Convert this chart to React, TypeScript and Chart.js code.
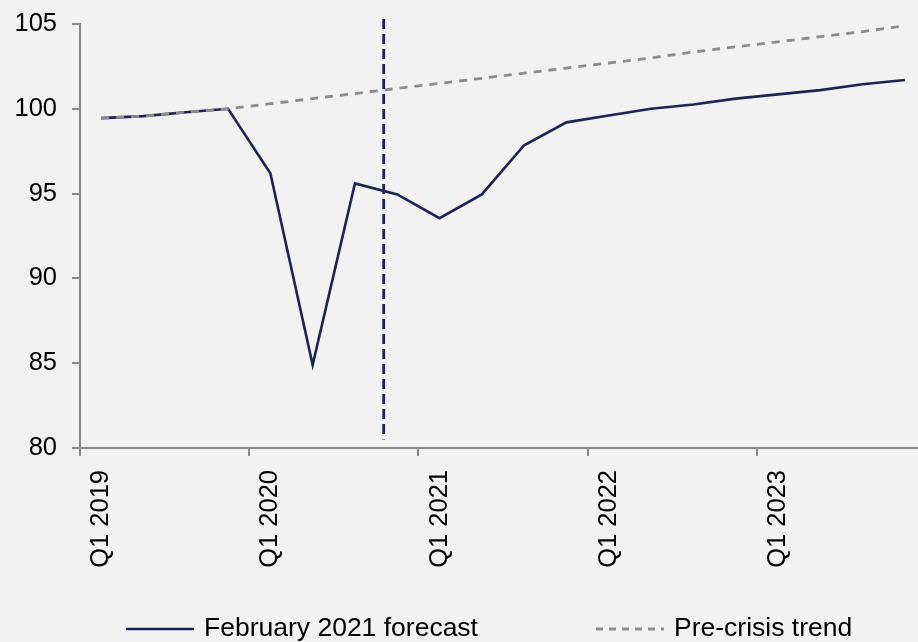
import React, { useEffect, useRef } from "react";
import { Chart, registerables } from "chart.js";

Chart.register(...registerables);

// ---- data ----
const QUARTERS = [
  "Q1 2019", "Q2 2019", "Q3 2019", "Q4 2019",
  "Q1 2020", "Q2 2020", "Q3 2020", "Q4 2020",
  "Q1 2021", "Q2 2021", "Q3 2021", "Q4 2021",
  "Q1 2022", "Q2 2022", "Q3 2022", "Q4 2022",
  "Q1 2023", "Q2 2023", "Q3 2023", "Q4 2023",
];
const FORECAST = [
  99.45, 99.57, 99.8, 100.0,
  96.2, 84.9, 95.6, 94.95,
  93.55, 94.95, 97.85, 99.2,
  99.6, 100.0, 100.25, 100.6,
  100.85, 101.1, 101.45, 101.7,
];
const TREND = [
  99.45, 99.57, 99.8, 100.0,
  100.3, 100.6, 100.9, 101.2,
  101.5, 101.8, 102.1, 102.4,
  102.7, 103.0, 103.35, 103.65,
  103.95, 104.25, 104.55, 104.9,
];
const SERIES_NAMES = ["February 2021 forecast", "Pre-crisis trend"];
const Y_MIN = 80;
const Y_MAX = 105;
const Y_STEP = 5;
// forecast cut-off marker (fractional category position) and its vertical extent
const CUTOFF_AT = 6.68;
const CUTOFF_FROM = 80.5;
const CUTOFF_TO = 105.3;

// ---- styles ----
const NAVY = "#1c2356";
const TREND_GREY = "#8c8c8c";
const AXIS_GREY = "#888888";
const BG = "#f2f2f2";
const FONT = "'Liberation Sans', Arial, sans-serif";
const LEGEND_FONT_SIZE = 26.5;
const LEGEND_Y = 629;
const LEGEND_ITEM_X = [126, 596];
const LEGEND_SAMPLE_W = 68;
const LEGEND_TEXT_GAP = 10;

const cutoffLine = {
  id: "cutoffLine",
  afterDatasetsDraw(chart: any) {
    const { ctx } = chart;
    const xs = chart.scales.x;
    const ys = chart.scales.y;
    const x = xs.getPixelForValue(CUTOFF_AT);
    const y1 = ys.getPixelForValue(CUTOFF_TO);
    const y2 = ys.getPixelForValue(CUTOFF_FROM);
    ctx.save();
    ctx.strokeStyle = NAVY;
    ctx.lineWidth = 2.8;
    ctx.setLineDash([10, 5]);
    ctx.beginPath();
    ctx.moveTo(x, y1);
    ctx.lineTo(x, y2);
    ctx.stroke();
    ctx.restore();
  },
};

const lineLegend = {
  id: "lineLegend",
  afterDraw(chart: any) {
    const { ctx } = chart;
    chart.data.datasets.forEach((ds: any, i: number) => {
      const x0 = LEGEND_ITEM_X[i];
      ctx.save();
      ctx.strokeStyle = ds.borderColor;
      ctx.lineWidth = ds.borderWidth;
      ctx.setLineDash(ds.borderDash ? [7, 6] : []);
      ctx.beginPath();
      ctx.moveTo(x0, LEGEND_Y);
      ctx.lineTo(x0 + LEGEND_SAMPLE_W, LEGEND_Y);
      ctx.stroke();
      ctx.setLineDash([]);
      ctx.fillStyle = "#000";
      ctx.font = `${LEGEND_FONT_SIZE}px ${FONT}`;
      ctx.textBaseline = "middle";
      ctx.textAlign = "left";
      ctx.fillText(ds.label, x0 + LEGEND_SAMPLE_W + LEGEND_TEXT_GAP, LEGEND_Y);
      ctx.restore();
    });
  },
};

export default function App() {
  const canvasRef = useRef<HTMLCanvasElement | null>(null);

  useEffect(() => {
    const canvas = canvasRef.current;
    if (!canvas) return;
    const chart = new Chart(canvas, {
      type: "line",
      data: {
        labels: QUARTERS,
        datasets: [
          {
            label: SERIES_NAMES[0],
            data: FORECAST,
            borderColor: NAVY,
            backgroundColor: NAVY,
            borderWidth: 2.6,
            pointRadius: 0,
            tension: 0,
            order: 1,
          },
          {
            label: SERIES_NAMES[1],
            data: TREND,
            borderColor: TREND_GREY,
            backgroundColor: TREND_GREY,
            borderWidth: 2.8,
            borderDash: [8, 7],
            pointRadius: 0,
            tension: 0,
            order: 0,
          },
        ],
      },
      options: {
        animation: false,
        responsive: false,
        devicePixelRatio: 1,
        layout: { padding: { top: 24, left: 0, right: 0, bottom: 0 } },
        plugins: {
          tooltip: { enabled: false },
          legend: { display: false },
        },
        scales: {
          x: {
            type: "category",
            offset: true,
            grid: {
              offset: true,
              drawOnChartArea: false,
              drawTicks: true,
              tickLength: 8,
              lineWidth: 2,
              color: (ctx: any) => (ctx.index % 4 === 0 ? AXIS_GREY : "rgba(0,0,0,0)"),
            },
            border: { display: true, color: AXIS_GREY, width: 2 },
            ticks: {
              autoSkip: false,
              minRotation: 90,
              maxRotation: 90,
              padding: 14,
              color: "#000",
              font: { family: FONT, size: 25.5 },
              callback: (_v: any, i: number) => (i % 4 === 0 ? QUARTERS[i] : ""),
            },
            afterFit: (scale: any) => {
              scale.height = 194;
              scale.paddingLeft = 0;
              scale.paddingRight = 0;
            },
          },
          y: {
            min: Y_MIN,
            max: Y_MAX,
            grid: {
              drawOnChartArea: false,
              drawTicks: true,
              tickLength: 8,
              lineWidth: 2,
              color: AXIS_GREY,
            },
            border: { display: true, color: AXIS_GREY, width: 2 },
            ticks: {
              stepSize: Y_STEP,
              padding: 15,
              color: "#000",
              font: { family: FONT, size: 25.5 },
            },
            afterFit: (scale: any) => {
              scale.width = 80;
              scale.paddingTop = 0;
              scale.paddingBottom = 0;
            },
          },
        },
      },
      plugins: [cutoffLine, lineLegend],
    });
    return () => chart.destroy();
  }, []);

  return (
    <div
      style={{
        position: "fixed",
        left: 0,
        top: 0,
        width: 918,
        height: 642,
        overflow: "hidden",
        background: BG,
      }}
    >
      <canvas
        ref={canvasRef}
        width={926}
        height={642}
        style={{ display: "block", width: 926, height: 642 }}
      />
    </div>
  );
}
